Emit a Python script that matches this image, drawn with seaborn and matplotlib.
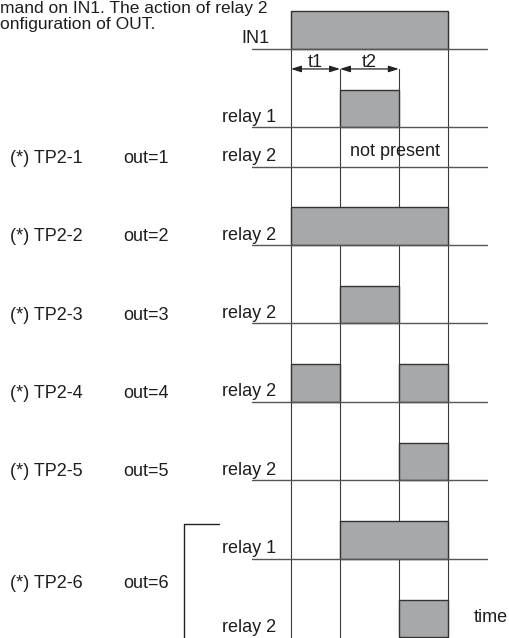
import matplotlib
matplotlib.use("Agg")
import matplotlib.pyplot as plt
import seaborn as sns

sns.set_theme(style="white")
plt.rcParams['font.family'] = ['Liberation Sans', 'DejaVu Sans']

# ---- data ----
event_times = [0.0, 1.0, 2.2, 3.2]          # IN1 on, end t1, end t2, IN1 off
row_labels = ["IN1", "relay 1", "relay 2", "relay 2", "relay 2",
              "relay 2", "relay 2", "relay 1", "relay 2"]
row_levels = [0, 1, 1.5, 2.5, 3.5, 4.5, 5.5, 6.5, 7.5]
row_on = [[(0, 3)], [(1, 2)], [], [(0, 3)], [(1, 2)],
          [(0, 1), (2, 3)], [(2, 3)], [(1, 3)], [(2, 3)]]
mode_labels = ["(*) TP2-1", "(*) TP2-2", "(*) TP2-3", "(*) TP2-4", "(*) TP2-5", "(*) TP2-6"]
out_labels = ["out=1", "out=2", "out=3", "out=4", "out=5", "out=6"]
mode_levels = [1.5, 2.5, 3.5, 4.5, 5.5, 6.92]
header_lines = ["mand on IN1. The action of relay 2", "onfiguration of OUT."]

# ---- style ----
FILL = "#a7a8aa"
EDGE = "#333333"
LINE = "#555555"
TXT = "#1e1e1e"
FS = 13
BOX_H = 0.48

fig = plt.figure(figsize=(5.09, 6.38), dpi=100)
ax = fig.add_axes([0, 0, 1, 1])
ax.set_xlim(-291 / 49, 218 / 49)
ax.set_ylim(7.51, -49 / 78.5)
ax.axis("off")

# boxes
for lvl, ons in zip(row_levels, row_on):
    for a, b in ons:
        x0, x1 = event_times[a], event_times[b]
        ax.bar(x0, BOX_H, width=x1 - x0, bottom=lvl - BOX_H, align="edge",
               color=FILL, edgecolor=EDGE, linewidth=1.0, zorder=5)

# vertical time lines
top_in1 = row_levels[0] - 0.47
arrow_y = 0.255
for i, t in enumerate(event_times):
    y0 = top_in1 if i in (0, 3) else arrow_y
    ax.plot([t, t], [y0, 7.6], color="#3a3a3a", lw=0.8, zorder=3)

# baselines
for k, lvl in enumerate(row_levels):
    if k == len(row_levels) - 1:
        ax.annotate("", xy=(4.48, lvl), xytext=(-0.8, lvl),
                    arrowprops=dict(arrowstyle="-|>,head_length=0.5,head_width=0.18",
                                    color=LINE, lw=1.0, shrinkA=0, shrinkB=0), zorder=6)
    else:
        ax.plot([-0.8, 4.0], [lvl, lvl], color=LINE, lw=1.0, zorder=6)

# row labels
for k, (lab, lvl) in enumerate(zip(row_labels, row_levels)):
    x = -1.02 if k == 0 else -1.41
    ax.text(x, lvl - 0.07, lab, fontsize=FS, color=TXT, va="baseline", ha="left")

# mode labels
for m, o, lvl in zip(mode_labels, out_labels, mode_levels):
    ax.text(-5.73, lvl - 0.05, m, fontsize=FS, color=TXT, va="baseline", ha="left")
    ax.text(-3.43, lvl - 0.05, o, fontsize=FS, color=TXT, va="baseline", ha="left")

# bracket for TP2-6
ax.plot([-1.47, -2.18, -2.18], [6.06, 6.06, 7.6], color="#222222", lw=1.0)

# not present
ax.text(2.12, 1.5 - 0.14, "not present", fontsize=FS, color=TXT, ha="center", va="baseline")

# t1 / t2 arrows
for (a, b), lab in zip([(0, 1), (1, 2)], ["t1", "t2"]):
    ax.annotate("", xy=(event_times[b], arrow_y), xytext=(event_times[a], arrow_y),
                arrowprops=dict(arrowstyle="<|-|>,head_length=0.5,head_width=0.16",
                                color="#222222", lw=0.9, shrinkA=0, shrinkB=0))
    ax.text((event_times[a] + event_times[b]) / 2, arrow_y - 0.03, lab, fontsize=FS,
            color=TXT, ha="center", va="baseline")

# time label
ax.text(3.73, 7.3, "time", fontsize=FS, color=TXT, ha="left", va="baseline")

# header (cropped paragraph)
ax.text(-291 / 49 + 0.01, -0.455, header_lines[0], fontsize=12.5, color=TXT,
        ha="left", va="baseline")
ax.text(-291 / 49 + 0.01, -0.25, header_lines[1], fontsize=12.5, color=TXT,
        ha="left", va="baseline")

fig.savefig("out.png", dpi=100)
